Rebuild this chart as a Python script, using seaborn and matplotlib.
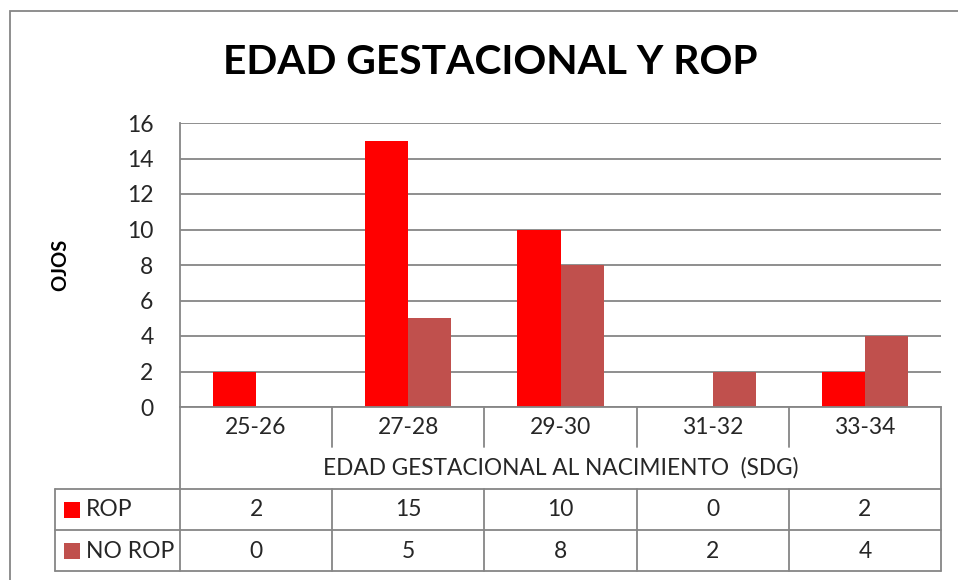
import matplotlib
matplotlib.use("Agg")
import matplotlib.pyplot as plt
from matplotlib.lines import Line2D
from matplotlib.patches import Rectangle
import seaborn as sns
import pandas as pd

categories = ["25-26", "27-28", "29-30", "31-32", "33-34"]
series_names = ["ROP", "NO ROP"]
rop = [2, 15, 10, 0, 2]
no_rop = [0, 5, 8, 2, 4]
colors = ["#FF0000", "#C0504D"]
title = "EDAD GESTACIONAL Y ROP"
xlabel = "EDAD GESTACIONAL AL NACIMIENTO  (SDG)"
ylabel = "OJOS"
yticks = [0, 2, 4, 6, 8, 10, 12, 14, 16]

sns.set_theme(style="white")
plt.rcParams['font.family'] = ['Lato', 'DejaVu Sans']

W, H = 958, 580
fig = plt.figure(figsize=(W / 100, H / 100), dpi=100)

def fx(px):
    return px / W

def fy(py):
    return 1 - py / H

GRAY = "#868686"

# plot area
L, R, T, B = 180, 941, 123, 407
ax = fig.add_axes([fx(L), fy(B), fx(R - L), (B - T) / H])

df = pd.DataFrame({
    "cat": categories * 2,
    "val": rop + no_rop,
    "serie": [series_names[0]] * len(categories) + [series_names[1]] * len(categories),
})
sns.barplot(data=df, x="cat", y="val", hue="serie", palette=colors,
            width=0.566, gap=0, saturation=1, legend=False, ax=ax,
            order=categories, hue_order=series_names, linewidth=0)

ax.set_xlim(-0.5, len(categories) - 0.5)
ax.set_ylim(0, 16)
ax.set_yticks(yticks)
ax.set_yticklabels([str(t) for t in yticks], fontsize=16.5)
ax.set_xticks([])
ax.set_xlabel("")
ax.set_ylabel("")
ax.tick_params(axis="y", length=0, pad=19)
ax.grid(axis="y", color=GRAY, linewidth=1.3)
ax.set_axisbelow(True)
for s in ["top", "right"]:
    ax.spines[s].set_visible(False)
for s in ["left", "bottom"]:
    ax.spines[s].set_color(GRAY)
    ax.spines[s].set_linewidth(1.3)

# outer frame
fig.add_artist(Rectangle((fx(10), fy(700)), fx(1200), (700 - 11) / H,
                         transform=fig.transFigure, fill=False,
                         edgecolor=GRAY, linewidth=1.3))

fig.text(fx(490), fy(63), title, ha="center", va="center",
         fontsize=29.3, fontweight="bold", color="black")
fig.text(fx(60), fy(265), ylabel, ha="center", va="center", rotation=90,
         fontsize=14.5, fontweight="bold", color="black")

def hline(y, x0, x1):
    fig.add_artist(Line2D([fx(x0), fx(x1)], [fy(y), fy(y)], transform=fig.transFigure,
                          color=GRAY, linewidth=1.3))

def vline(x, y0, y1):
    fig.add_artist(Line2D([fx(x), fx(x)], [fy(y0), fy(y1)], transform=fig.transFigure,
                          color=GRAY, linewidth=1.3))

col_w = (R - L) / len(categories)
# table grid
for y in (489, 530, 571):
    hline(y, 55, R)
vline(55, 489, 571)
vline(L, B, 571)
vline(R, B, 571)
for i in range(1, len(categories)):
    x = L + i * col_w
    vline(x, B, 447)
    vline(x, 489, 571)

for i, c in enumerate(categories):
    cx = L + (i + 0.5) * col_w
    fig.text(fx(cx), fy(428), c, ha="center", va="center", fontsize=16.5)
    fig.text(fx(cx), fy(510), str(rop[i]), ha="center", va="center", fontsize=16.5)
    fig.text(fx(cx), fy(551), str(no_rop[i]), ha="center", va="center", fontsize=16.5)

fig.text(fx((L + R) / 2), fy(468), xlabel, ha="center", va="center", fontsize=16.3)

for j, (name, col) in enumerate(zip(series_names, colors)):
    cy = 510 + j * 41
    fig.add_artist(Rectangle((fx(64), fy(cy + 8)), fx(16), 16 / H,
                             transform=fig.transFigure, facecolor=col, edgecolor="none"))
    fig.text(fx(86), fy(cy), name, ha="left", va="center", fontsize=16.5)

fig.savefig("out.png", dpi=100)
